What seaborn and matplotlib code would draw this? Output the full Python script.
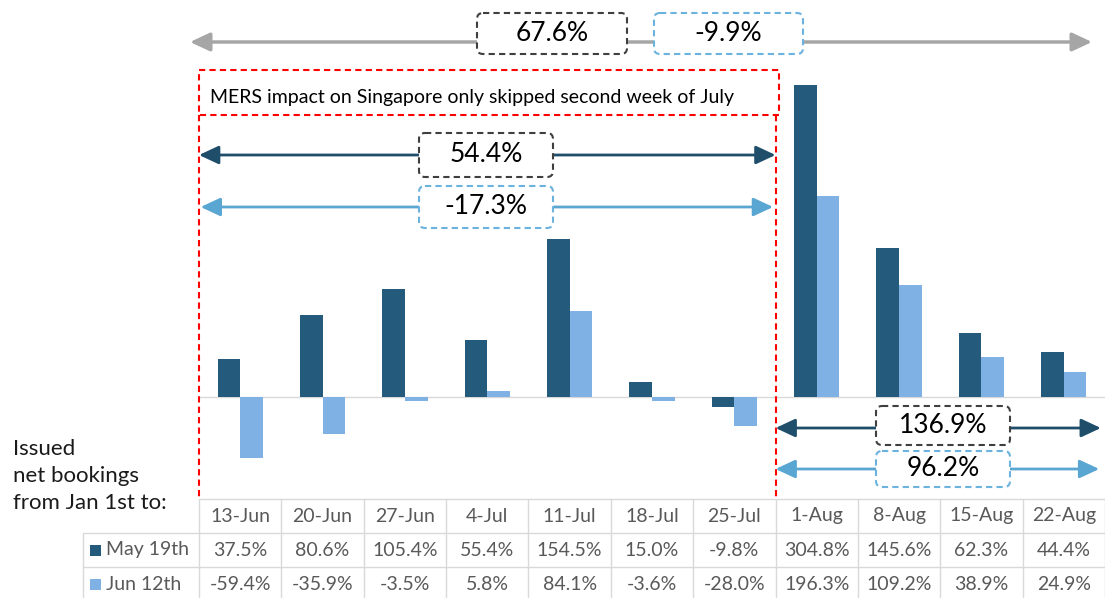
import pandas as pd
import seaborn as sns
import matplotlib.pyplot as plt
from matplotlib.patches import FancyBboxPatch, FancyArrowPatch, Rectangle
from matplotlib.lines import Line2D
from matplotlib.transforms import Affine2D, blended_transform_factory

# data
weeks = ['13-Jun', '20-Jun', '27-Jun', '4-Jul', '11-Jul', '18-Jul', '25-Jul',
         '1-Aug', '8-Aug', '15-Aug', '22-Aug']
may19 = [37.5, 80.6, 105.4, 55.4, 154.5, 15.0, -9.8, 304.8, 145.6, 62.3, 44.4]
jun12 = [-59.4, -35.9, -3.5, 5.8, 84.1, -3.6, -28.0, 196.3, 109.2, 38.9, 24.9]
series_names = ['May 19th', 'Jun 12th']

df = pd.DataFrame({
    'week': weeks * 2,
    'series': [series_names[0]] * len(weeks) + [series_names[1]] * len(weeks),
    'value': may19 + jun12,
})

DARK = '#245A7B'
LIGHT = '#7FB1E4'
GRAY_TXT = '#595959'
GRID = '#D9D9D9'
RED = '#FF0000'
ARR_DARK = '#1F4E6B'
ARR_LIGHT = '#5AA6D2'
BOX_DARK = '#3F3F3F'
BOX_LIGHT = '#6BB3DE'

sns.set_theme(style='white')
plt.rcParams['font.family'] = ['Lato', 'DejaVu Sans']

W, H = 1105, 598
fig = plt.figure(figsize=(W / 100, H / 100), dpi=100)
ax = fig.add_axes([199 / W, 1 - 499 / H, 906 / W, 499 / H])

sns.barplot(data=df, x='week', y='value', hue='series', order=weeks,
            palette=[DARK, LIGHT], width=0.55, saturation=1, errorbar=None,
            legend=False, linewidth=0, ax=ax)
ax.set_xlim(-0.5, len(weeks) - 0.5)
ax.set_ylim(-99.6, 387.8)
ax.axis('off')
ax.axhline(0, color=GRID, lw=1, zorder=0)

# pixel transform (y measured from top)
PX = Affine2D().scale(1 / W, -1 / H).translate(0, 1) + fig.transFigure
TR = blended_transform_factory(ax.transData, PX)


def hline(x0, x1, y, **kw):
    fig.add_artist(Line2D([x0, x1], [y, y], transform=PX, **kw))


def arrow(x0, x1, y, color, trans=PX, lw=2):
    fig.add_artist(FancyArrowPatch((x0, y), (x1, y), transform=trans,
                                   arrowstyle='<|-|>,head_length=0.75,head_width=0.35',
                                   mutation_scale=16, color=color, lw=lw,
                                   shrinkA=0, shrinkB=0, zorder=3))


def box(x0, x1, y0, y1, text, ec, ty=None):
    fig.add_artist(FancyBboxPatch((x0, y0), x1 - x0, y1 - y0,
                                  boxstyle='round,pad=0,rounding_size=6',
                                  transform=PX, fc='white', ec=ec, lw=1.5,
                                  ls=(0, (3, 2)), zorder=4))
    fig.text((x0 + x1) / 2 / W, 1 - (ty if ty else (y0 + y1) / 2) / H, text,
             ha='center', va='center', fontsize=19, color='black', zorder=5)


# table
for i in range(len(weeks) + 1):
    fig.add_artist(Line2D([i - 0.5, i - 0.5], [499, 600], transform=TR,
                          color=GRID, lw=1))
hline(199, W, 499, color=GRID, lw=1)
hline(83, W, 533, color=GRID, lw=1)
hline(83, W, 567, color=GRID, lw=1)
fig.add_artist(Line2D([83, 83], [533, 600], transform=PX, color=GRID, lw=1))

TFS = 14
for i, w in enumerate(weeks):
    fig.text(0, 0, w, transform=TR, fontsize=TFS, color=GRAY_TXT,
             ha='center', va='center').set_position((i, 516))
    fig.text(0, 0, f'{may19[i]:.1f}%', transform=TR, fontsize=TFS,
             color=GRAY_TXT, ha='center', va='center').set_position((i, 550))
    fig.text(0, 0, f'{jun12[i]:.1f}%', transform=TR, fontsize=TFS,
             color=GRAY_TXT, ha='center', va='center').set_position((i, 584))

for y, name, c in [(550, series_names[0], DARK), (584, series_names[1], LIGHT)]:
    fig.add_artist(Rectangle((90, y - 5), 11, 11, transform=PX, fc=c, ec='none'))
    fig.text(106 / W, 1 - y / H, name, fontsize=TFS, color=GRAY_TXT,
             ha='left', va='center')

fig.text(13 / W, 1 - 439 / H, 'Issued\nnet bookings\nfrom Jan 1st to:',
         fontsize=16, color='#1A1A1A', ha='left', va='top', linespacing=1.45)

# red dashed region
fig.add_artist(Rectangle((199, 70), 580, 45, transform=PX, fc='none', ec=RED,
                         lw=1.5, ls=(0, (3, 2))))
fig.text(210 / W, 1 - 97 / H, 'MERS impact on Singapore only skipped second week of July',
         fontsize=14, color='black', ha='left', va='center')
for xd in (-0.5, 6.5):
    fig.add_artist(Line2D([xd, xd], [115, 497], transform=TR, color=RED,
                          lw=1.5, ls=(0, (3, 2))))

# arrows and boxes
arrow(190, 1092, 42, '#A6A6A6', lw=2.5)
box(477, 627, 13, 54, '67.6%', BOX_DARK)
box(654, 803, 13, 54, '-9.9%', BOX_LIGHT)

arrow(-0.5, 6.5, 155, ARR_DARK, trans=TR)
box(419, 553, 133, 177, '54.4%', BOX_DARK)
arrow(-0.48, 6.47, 207, ARR_LIGHT, trans=TR)
box(419, 553, 186, 228, '-17.3%', BOX_LIGHT)

arrow(6.5, 10.45, 428, ARR_DARK, trans=TR)
box(876, 1010, 406, 445, '136.9%', BOX_DARK)
arrow(6.5, 10.43, 469, ARR_LIGHT, trans=TR)
box(876, 1010, 451, 487, '96.2%', BOX_LIGHT)

fig.savefig('out.png', dpi=100)
